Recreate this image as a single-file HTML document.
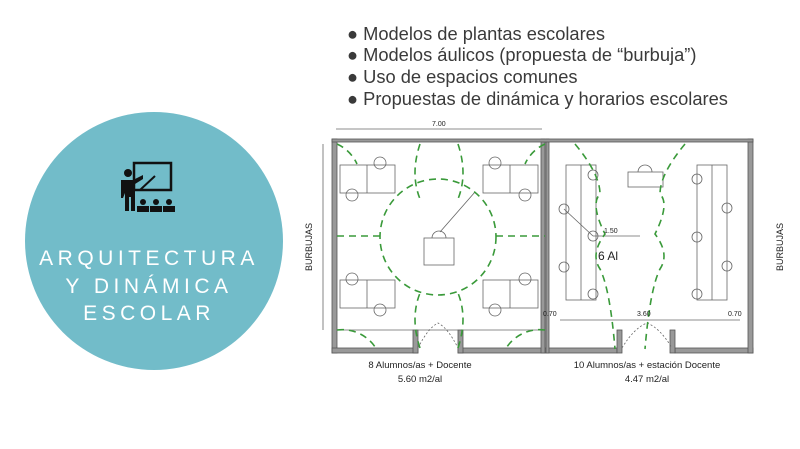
<!DOCTYPE html>
<html><head><meta charset="utf-8"><style>
body{margin:0;width:800px;height:449px;background:#fff;overflow:hidden;position:relative;font-family:"Liberation Sans",sans-serif}
.b{position:absolute;left:347px;font-size:18.3px;color:#3a3a3a;line-height:20px}
.c{position:absolute;left:25px;top:112px;width:258px;height:258px;border-radius:50%;background:#72bcc9}
.t{position:absolute;left:18px;width:262px;text-align:center;color:#fff;font-size:21px;letter-spacing:4.5px}
</style></head><body>
<div class="b" style="top:24px">● Modelos de plantas escolares</div>
<div class="b" style="top:45px">● Modelos áulicos (propuesta de “burbuja”)</div>
<div class="b" style="top:67px">● Uso de espacios comunes</div>
<div class="b" style="top:89px">● Propuestas de dinámica y horarios escolares</div>
<div class="c"></div>
<svg style="position:absolute;left:0;top:0" width="800" height="449">
<g fill="#111" stroke="#111">
<rect x="134" y="163" width="37" height="27" fill="none" stroke-width="2.5"/>
<line x1="140" y1="190" x2="155" y2="176" stroke-width="2"/>
<circle cx="128" cy="173" r="4" stroke="none"/>
<path d="M121 180 h12 l10 -5 v4 l-8 5 v27 h-4 v-14 h-2 v14 h-4 v-18 l-2 5 h-2z" stroke="none"/>
<circle cx="143" cy="202" r="3" stroke="none"/><circle cx="156" cy="202" r="3" stroke="none"/><circle cx="169" cy="202" r="3" stroke="none"/>
<rect x="137" y="206" width="12" height="6" stroke="none"/><rect x="150" y="206" width="12" height="6" stroke="none"/><rect x="163" y="206" width="12" height="6" stroke="none"/>
</g>
<g fill="#999" stroke="#555" stroke-width="0.8">
<rect x="332" y="139" width="5" height="214"/><rect x="332" y="348" width="86" height="5"/><rect x="458" y="348" width="159" height="5"/><rect x="675" y="348" width="78" height="5"/>
<rect x="541" y="139" width="4" height="214"/><rect x="546" y="139" width="3" height="214"/><rect x="748" y="139" width="5" height="214"/>
<rect x="332" y="139" width="421" height="3"/>
<rect x="413" y="330" width="5" height="23"/><rect x="458" y="330" width="5" height="23"/><rect x="617" y="330" width="5" height="23"/><rect x="670" y="330" width="5" height="23"/>
</g>
<g fill="none" stroke="#666" stroke-width="0.8">
<line x1="336" y1="129" x2="542" y2="129"/><line x1="323" y1="144" x2="323" y2="330"/>
<rect x="340" y="165" width="55" height="28"/><line x1="367" y1="165" x2="367" y2="193"/>
<rect x="483" y="165" width="55" height="28"/><line x1="510" y1="165" x2="510" y2="193"/>
<rect x="340" y="280" width="55" height="28"/><line x1="367" y1="280" x2="367" y2="308"/>
<rect x="483" y="280" width="55" height="28"/><line x1="510" y1="280" x2="510" y2="308"/>
<circle cx="380" cy="163" r="6"/><circle cx="352" cy="195" r="6"/><circle cx="352" cy="279" r="6"/><circle cx="380" cy="310" r="6"/>
<circle cx="495" cy="163" r="6"/><circle cx="525" cy="195" r="6"/><circle cx="525" cy="279" r="6"/><circle cx="495" cy="310" r="6"/>
<rect x="424" y="238" width="30" height="27"/><path d="M432 238 a7 7 0 0 1 14 0"/><line x1="440" y1="232" x2="475" y2="192"/>
<rect x="566" y="165" width="30" height="135"/><line x1="581" y1="165" x2="581" y2="300"/>
<rect x="697" y="165" width="30" height="135"/><line x1="712" y1="165" x2="712" y2="300"/>
<rect x="628" y="172" width="35" height="15"/><path d="M638 172 a7 7 0 0 1 14 0"/>
<circle cx="564" cy="209" r="5"/><circle cx="593" cy="236" r="5"/><circle cx="593" cy="175" r="5"/><circle cx="564" cy="267" r="5"/><circle cx="593" cy="294" r="5"/>
<circle cx="697" cy="179" r="5"/><circle cx="727" cy="208" r="5"/><circle cx="697" cy="237" r="5"/><circle cx="727" cy="266" r="5"/><circle cx="697" cy="294" r="5"/>
<line x1="564" y1="209" x2="593" y2="236"/><line x1="593" y1="236" x2="640" y2="236"/>
<line x1="560" y1="320" x2="740" y2="320"/><line x1="340" y1="330" x2="540" y2="330"/>
<path d="M418 348 q10 -20 20 -25 q10 5 20 25" stroke-dasharray="2 2"/><path d="M622 348 q12 -20 25 -25 q13 5 25 25" stroke-dasharray="2 2"/>
</g>
<g fill="none" stroke="#3a9a3a" stroke-width="1.6" stroke-dasharray="7 5">
<circle cx="438" cy="237" r="58"/>
<path d="M337 236 H380 M496 236 H545 M420 144 q-10 30 0 55 M458 144 q10 30 0 55 M420 348 q-10 -30 0 -55 M458 348 q10 -30 0 -55"/>
<path d="M337 144 a40 40 0 0 1 20 20 M545 144 a40 40 0 0 0 -20 20 M337 330 a40 40 0 0 1 40 20 M545 330 a40 40 0 0 0 -40 20"/>
<path d="M575 144 q25 30 25 50 q-10 10 5 40 q-15 20 -5 35 q10 20 15 80"/>
<path d="M685 144 q-25 30 -25 50 q10 10 -5 40 q15 20 5 35 q-10 20 -15 80"/>
</g>
<g font-family="Liberation Sans,sans-serif" fill="#222" font-size="7">
<text x="432" y="126">7.00</text>
<text x="543" y="316">0.70</text><text x="637" y="316">3.60</text><text x="728" y="316">0.70</text>
<text x="604" y="233">1.50</text>
<text x="598" y="260" font-size="12">6 Al</text>
<text transform="translate(312,271) rotate(-90)" font-size="9">BURBUJAS</text>
<text transform="translate(783,271) rotate(-90)" font-size="9">BURBUJAS</text>
<text x="420" y="368" font-size="9.5" text-anchor="middle">8 Alumnos/as + Docente</text>
<text x="420" y="382" font-size="9.5" text-anchor="middle">5.60 m2/al</text>
<text x="647" y="368" font-size="9.5" text-anchor="middle">10 Alumnos/as + estación Docente</text>
<text x="647" y="382" font-size="9.5" text-anchor="middle">4.47 m2/al</text>
</g>
</svg>
<div class="t" style="top:247px">ARQUITECTURA</div>
<div class="t" style="top:275px">Y DINÁMICA</div>
<div class="t" style="top:302px">ESCOLAR</div>
</body></html>
